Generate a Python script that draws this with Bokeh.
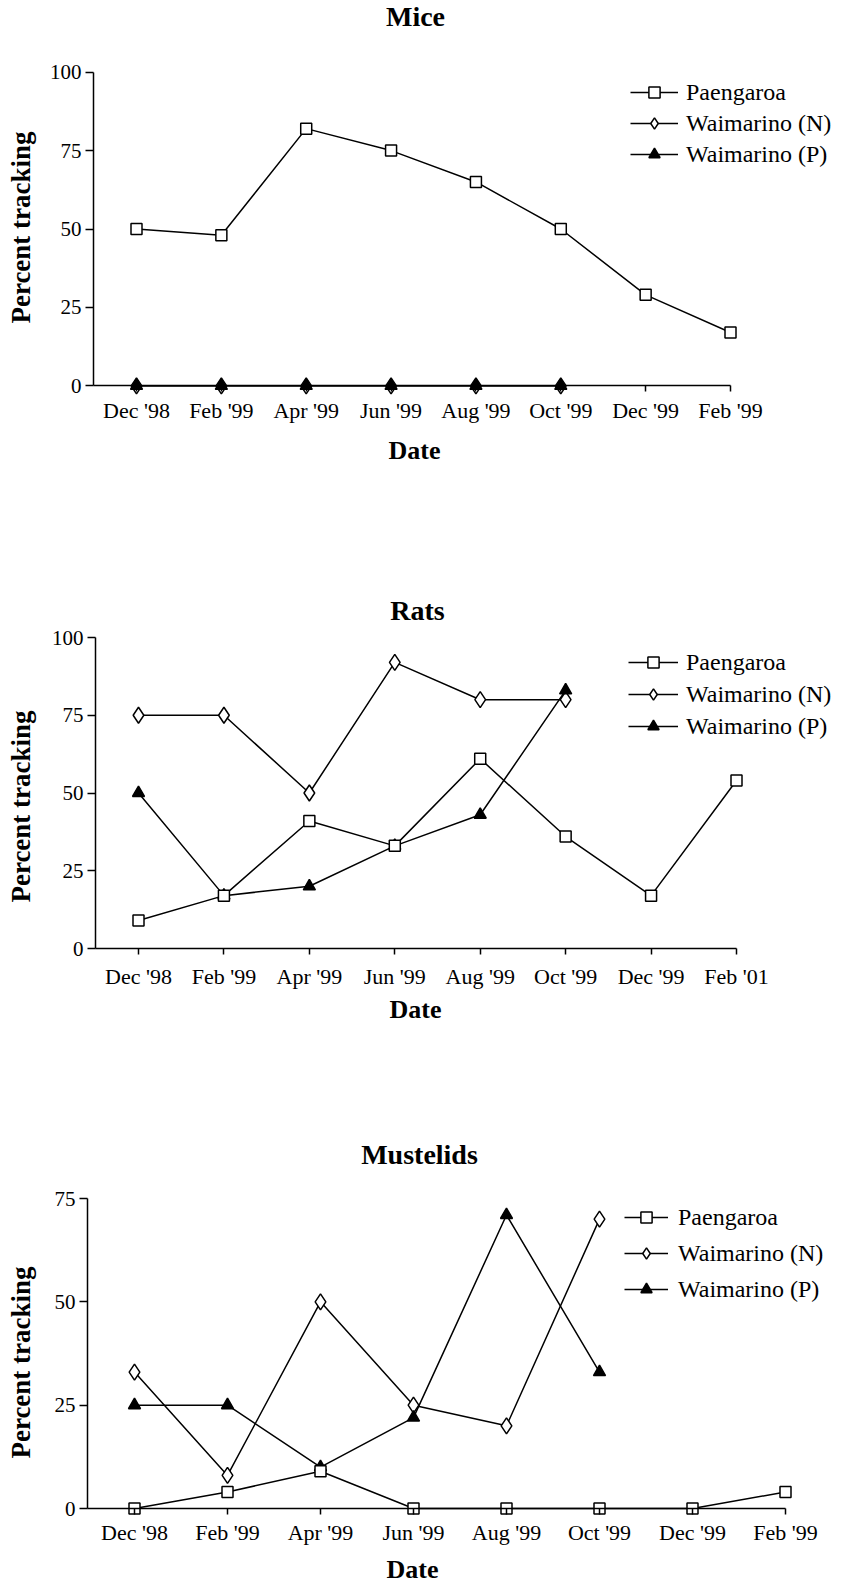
import numpy as np
from bokeh.plotting import figure
from bokeh.models import Range1d, FixedTicker, Legend, LegendItem, Label
from bokeh.layouts import column
from bokeh.embed import file_html
from bokeh.resources import INLINE

# ---------------- data ----------------
series_names = ["Paengaroa", "Waimarino (N)", "Waimarino (P)"]

mice_dates = ["Dec '98", "Feb '99", "Apr '99", "Jun '99", "Aug '99", "Oct '99", "Dec '99", "Feb '99"]
mice_paengaroa = [50, 48, 82, 75, 65, 50, 29, 17]
mice_waimarino_n = [0, 0, 0, 0, 0, 0, None, None]
mice_waimarino_p = [0, 0, 0, 0, 0, 0, None, None]

rats_dates = ["Dec '98", "Feb '99", "Apr '99", "Jun '99", "Aug '99", "Oct '99", "Dec '99", "Feb '01"]
rats_paengaroa = [9, 17, 41, 33, 61, 36, 17, 54]
rats_waimarino_n = [75, 75, 50, 92, 80, 80, None, None]
rats_waimarino_p = [50, 17, 20, 33, 43, 83, None, None]

must_dates = ["Dec '98", "Feb '99", "Apr '99", "Jun '99", "Aug '99", "Oct '99", "Dec '99", "Feb '99"]
must_paengaroa = [0, 4, 9, 0, 0, 0, 0, 4]
must_waimarino_n = [33, 8, 50, 25, 20, 70, None, None]
must_waimarino_p = [25, 25, 10, 22, 71, 33, None, None]

y_ticks_100 = [0, 25, 50, 75, 100]
y_ticks_75 = [0, 25, 50, 75]

x_title = "Date"
y_title = "Percent tracking"

FONT = "Liberation Serif"
W = 866


def arr(v):
    return np.array([np.nan if a is None else a for a in v], dtype=float)


def panel(title, dates, pa, wn, wp, yticks, g):
    n = len(dates)
    xs = np.arange(n)
    dx = (g["xlast"] - g["x0"]) / (n - 1)
    ymax = yticks[-1]
    ppu = (g["y0"] - g["top"]) / ymax

    def px(x):
        return (x - g["x0"]) / dx

    def py(y):
        return (g["y0"] - y) / ppu

    x_left = px(g["left"])
    p = figure(width=W, height=g["h"], output_backend="svg", toolbar_location=None,
               x_range=Range1d(px(0), px(W)),
               y_range=Range1d(py(g["ftop"] + g["h"]), py(g["ftop"])),
               min_border_left=0, min_border_right=0,
               min_border_top=0, min_border_bottom=0)
    p.outline_line_color = None
    p.xgrid.visible = False
    p.ygrid.visible = False
    p.background_fill_color = "white"
    p.border_fill_color = "white"

    bold = dict(text_font=FONT, text_font_style="bold", text_color="black",
                text_align="center", text_baseline="middle")
    p.add_layout(Label(x=px(g["tx"]), y=py(g["ty"]), text=title, text_font_size="28px", **bold))
    p.add_layout(Label(x=px(g["datex"]), y=py(g["datey"]), text=x_title,
                       text_font_size="26px", **bold))
    p.add_layout(Label(x=px(g["ylx"]), y=py(g["yly"]), text=y_title, angle=np.pi / 2,
                       text_font_size="27px", **bold))

    xa = p.xaxis[0]
    xa.ticker = FixedTicker(ticks=list(range(n)))
    xa.major_label_overrides = {int(i): d for i, d in enumerate(dates)}
    xa.bounds = (x_left, n - 1)
    xa.fixed_location = 0
    xa.axis_line_width = 1.5
    xa.axis_line_color = "black"
    xa.major_tick_out = 6
    xa.major_tick_in = 0
    xa.major_tick_line_width = 1.5
    xa.minor_tick_line_color = None
    xa.major_label_text_font = FONT
    xa.major_label_text_font_size = "22px"
    xa.major_label_text_color = "black"
    xa.major_label_standoff = g["xls"]

    ya = p.yaxis[0]
    ya.ticker = FixedTicker(ticks=yticks)
    ya.bounds = (0, ymax)
    ya.fixed_location = x_left
    ya.axis_line_width = 1.5
    ya.axis_line_color = "black"
    ya.major_tick_out = 8
    ya.major_tick_in = 0
    ya.major_tick_line_width = 1.5
    ya.minor_tick_line_color = None
    ya.major_label_text_font = FONT
    ya.major_label_text_font_size = "21px"
    ya.major_label_text_color = "black"
    ya.major_label_standoff = 4

    ypa, ywn, ywp = arr(pa), arr(wn), arr(wp)
    kw = dict(line_color="black", line_width=1.5)
    l_wn = p.line(xs, ywn, **kw)
    l_wp = p.line(xs, ywp, **kw)
    l_pa = p.line(xs, ypa, **kw)
    s_wn = p.scatter(xs, ywn, marker="diamond", size=16, fill_color="white", **kw)
    s_wp = p.scatter(xs, ywp, marker="triangle", size=12, fill_color="black", **kw)
    s_pa = p.scatter(xs, ypa, marker="square", size=11, fill_color="white", **kw)

    lg = Legend(items=[LegendItem(label=series_names[0], renderers=[l_pa, s_pa]),
                       LegendItem(label=series_names[1], renderers=[l_wn, s_wn]),
                       LegendItem(label=series_names[2], renderers=[l_wp, s_wp])],
                location=(g["lgx"], g["ftop"] + g["h"] - g["lgb"]),
                glyph_width=g["gw"], glyph_height=28, label_height=28,
                label_standoff=g["lstd"], spacing=g["lsp"], padding=0, margin=0,
                border_line_color=None, background_fill_alpha=0,
                label_text_font=FONT, label_text_font_size="24px", label_text_color="black")
    p.add_layout(lg)
    return p


g1 = dict(h=555, ftop=0, left=93, top=71.7, y0=385.3, x0=136, xlast=730,
          tx=415, ty=16, xls=6, datex=414, datey=450, ylx=20, yly=227,
          lgx=630, lgb=168, gw=48, lstd=8, lsp=3)
g2 = dict(h=555, ftop=555, left=95, top=637, y0=948, x0=138, xlast=736,
          tx=417, ty=610, xls=9, datex=415, datey=1009, ylx=20, yly=806,
          lgx=628, lgb=740, gw=50, lstd=8, lsp=4)
g3 = dict(h=473, ftop=1110, left=87, top=1198, y0=1508, x0=134, xlast=785,
          tx=419, ty=1154, xls=5, datex=412, datey=1569, ylx=20, yly=1362,
          lgx=624, lgb=1303, gw=44, lstd=10, lsp=8)

p1 = panel("Mice", mice_dates, mice_paengaroa, mice_waimarino_n, mice_waimarino_p, y_ticks_100, g1)
p2 = panel("Rats", rats_dates, rats_paengaroa, rats_waimarino_n, rats_waimarino_p, y_ticks_100, g2)
p3 = panel("Mustelids", must_dates, must_paengaroa, must_waimarino_n, must_waimarino_p, y_ticks_75, g3)

layout = column(p1, p2, p3, spacing=0)
open("out.html", "w").write(file_html(layout, INLINE))
